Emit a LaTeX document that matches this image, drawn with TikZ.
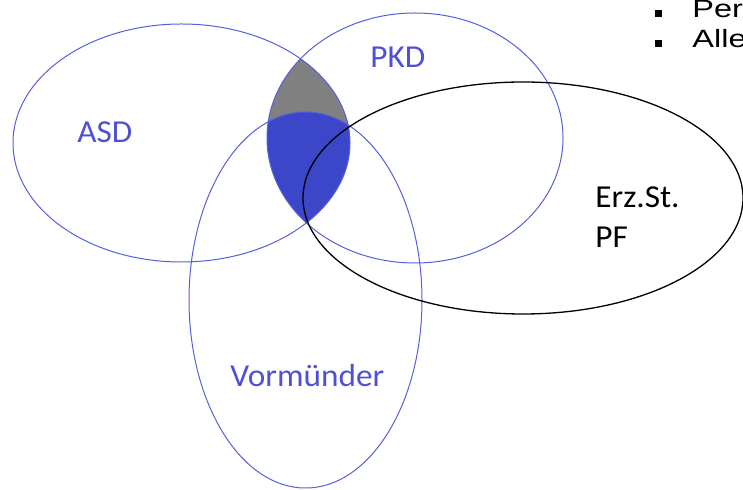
\documentclass[tikz,border=0pt]{standalone}
\usepackage{fontspec}
\setmainfont{Carlito}
\newfontfamily\listfont{Liberation Sans}
\usepackage{graphicx}
\usepackage{tikz}
\definecolor{VennLine}{RGB}{85,95,220}
\definecolor{VennText}{RGB}{80,80,215}
\definecolor{VennFill}{RGB}{60,70,200}
\definecolor{VennGray}{RGB}{128,128,128}
\newcommand{\widetxt}[2]{\scalebox{#1}[1]{#2}}

\begin{document}
\begin{tikzpicture}[x=0.5pt,y=-0.5pt,
    set/.style={VennLine,line width=0.5pt},
    blackset/.style={black,line width=0.65pt},
    lbl/.style={VennText,font=\fontsize{16}{20}\selectfont,inner sep=0pt,anchor=base west},
    listitem/.style={black,font=\listfont\fontsize{12.5}{14}\selectfont,inner sep=0pt,anchor=base west},
    sq/.style={fill=black,inner sep=0pt,minimum size=3.5pt,rectangle}]
    \useasboundingbox (0,0) rectangle (743,490);
    \clip (0,0) rectangle (743,490);
    % lens ASD / PKD, part inside Vormuender in blue
    \begin{scope}
       \clip (181.5,143) ellipse [x radius=168.5,y radius=119];
       \clip (415,138) ellipse [x radius=148,y radius=125];
       \fill[VennGray] (0,0) rectangle (743,490);
       \fill[VennFill] (305.5,300) ellipse [x radius=116.5,y radius=188];
    \end{scope}
    \draw[set] (181.5,143) ellipse [x radius=168.5,y radius=119];
    \draw[set] (415,138) ellipse [x radius=148,y radius=125];
    \draw[set] (305.5,300) ellipse [x radius=116.5,y radius=188];
    \draw[blackset] (523,198) ellipse [x radius=220,y radius=116];
    \node[lbl] (asd) at (77,143) {\widetxt{1.04}{ASD}};
    \node[lbl] (pkd) at (370,68) {\widetxt{1.04}{PKD}};
    \node[lbl] (vorm) at (230,387) {\widetxt{1.04}{Vormünder}};
    \node[lbl,black] (erz) at (595,208) {\widetxt{1.04}{Erz.St.}};
    \node[lbl,black] (pf) at ([yshift=-20pt]erz.base west) {\widetxt{1.04}{PF}};
    \foreach \y/\txt/\nm in %
    {18/Per/a,48/Alle/b} {
       \node[sq] (sq\nm) at (658.5,\y-4.5) {};
       \node[listitem] (item\nm) at (692,\y) {\widetxt{1.3}{\txt}};
    }
\end{tikzpicture}
\end{document}
